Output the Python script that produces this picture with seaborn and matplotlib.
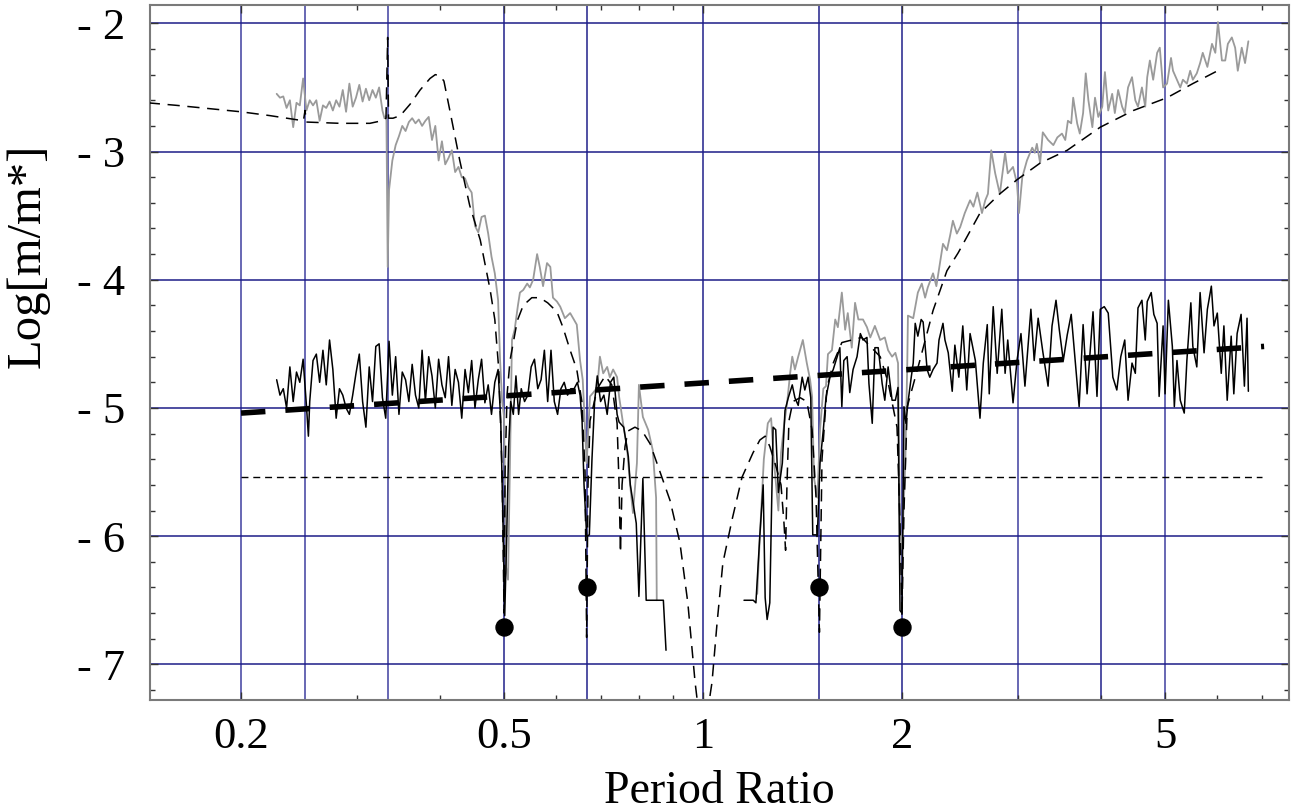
import numpy as np
import pandas as pd
import matplotlib
matplotlib.use("Agg")
import matplotlib.pyplot as plt
import seaborn as sns
from matplotlib.ticker import FixedLocator, FuncFormatter, MultipleLocator, NullFormatter

# ---------------- data: (log10 period ratio, Log[m/m*]) ----------------
gray_left = [(-0.645,-2.55),(-0.640,-2.58),(-0.635,-2.57),(-0.630,-2.66),(-0.625,-2.60),(-0.620,-2.81),
    (-0.615,-2.62),(-0.610,-2.64),(-0.605,-2.43),(-0.600,-2.68),(-0.595,-2.60),(-0.590,-2.64),(-0.585,-2.60),
    (-0.580,-2.76),(-0.575,-2.64),(-0.570,-2.66),(-0.565,-2.61),(-0.560,-2.68),(-0.555,-2.60),(-0.550,-2.65),
    (-0.545,-2.52),(-0.540,-2.69),(-0.535,-2.47),(-0.530,-2.65),(-0.525,-2.58),(-0.520,-2.48),(-0.515,-2.61),
    (-0.510,-2.51),(-0.505,-2.60),(-0.500,-2.52),(-0.495,-2.58),(-0.490,-2.50),(-0.485,-2.68),(-0.482,-2.74),
    (-0.479,-2.72),(-0.477,-3.90),(-0.475,-3.30),(-0.470,-3.07),(-0.465,-2.95),(-0.460,-2.88),(-0.455,-2.80),
    (-0.450,-2.84),(-0.445,-2.77),(-0.440,-2.74),(-0.435,-2.78),(-0.430,-2.75),(-0.425,-2.80),(-0.420,-2.76),
    (-0.415,-2.73),(-0.410,-2.91),(-0.405,-2.80),(-0.400,-3.07),(-0.395,-2.92),(-0.390,-3.10),(-0.385,-3.05),
    (-0.380,-2.99),(-0.375,-3.16),(-0.370,-3.12),(-0.365,-3.20),(-0.360,-3.21),(-0.355,-3.28),(-0.350,-3.32),
    (-0.345,-3.58),(-0.340,-3.63),(-0.335,-3.51),(-0.330,-3.50),(-0.325,-3.64),(-0.320,-3.82),(-0.315,-3.95),
    (-0.310,-4.16),(-0.307,-4.63),(-0.304,-4.94),(-0.301,-5.07),(-0.298,-6.24),(-0.295,-6.34),(-0.292,-5.41),
    (-0.289,-4.47),(-0.285,-4.39),(-0.280,-4.20),(-0.277,-4.10),(-0.272,-4.08),(-0.266,-4.03),(-0.262,-4.06),
    (-0.257,-4.00),(-0.251,-3.80),(-0.247,-3.90),(-0.242,-4.05),(-0.236,-3.87),(-0.231,-3.90),(-0.227,-4.14),
    (-0.221,-4.17),(-0.216,-4.21),(-0.209,-4.30),(-0.201,-4.26),(-0.191,-4.35),(-0.186,-4.63),(-0.182,-4.78),
    (-0.176,-5.43),(-0.171,-4.91),(-0.166,-4.88),(-0.160,-4.84),(-0.156,-4.60),(-0.151,-4.73),(-0.145,-4.68),
    (-0.141,-4.76),(-0.136,-4.70),(-0.130,-4.76),(-0.127,-4.91),(-0.121,-5.12),(-0.115,-5.31),(-0.111,-5.56),
    (-0.106,-5.82),(-0.100,-5.43),(-0.097,-4.82),(-0.091,-5.07),(-0.083,-5.17),(-0.076,-5.33),(-0.071,-5.70),
    (-0.070,-6.50)]

gray_right = [(0.082,-6.45),(0.086,-6.00),(0.092,-5.40),(0.098,-5.12),(0.103,-5.08),(0.107,-5.40),(0.114,-5.80),
    (0.118,-5.35),(0.123,-5.12),(0.127,-4.97),(0.132,-4.72),(0.135,-4.60),(0.139,-4.70),(0.144,-4.60),
    (0.151,-4.47),(0.157,-4.65),(0.162,-4.78),(0.165,-4.91),(0.168,-5.55),(0.173,-5.70),(0.177,-5.17),
    (0.182,-4.85),(0.186,-4.83),(0.189,-4.58),(0.195,-4.55),(0.200,-4.31),(0.204,-4.37),(0.210,-4.10),
    (0.215,-4.39),(0.219,-4.26),(0.225,-4.53),(0.230,-4.18),(0.235,-4.31),(0.242,-4.31),(0.248,-4.37),
    (0.253,-4.45),(0.260,-4.36),(0.268,-4.47),(0.275,-4.45),(0.280,-4.55),(0.286,-4.60),(0.291,-4.57),
    (0.295,-4.65),(0.298,-5.95),(0.301,-6.10),(0.306,-5.43),(0.309,-4.65),(0.310,-4.28),(0.318,-4.30),
    (0.325,-4.10),(0.331,-4.03),(0.336,-4.14),(0.340,-4.06),(0.348,-3.95),(0.353,-4.05),(0.359,-3.85),
    (0.363,-3.72),(0.369,-3.77),(0.374,-3.65),(0.378,-3.54),(0.384,-3.64),(0.389,-3.59),(0.396,-3.48),
    (0.404,-3.38),(0.409,-3.43),(0.415,-3.32),(0.422,-3.48),(0.427,-3.38),(0.431,-3.33),(0.436,-2.99),
    (0.442,-3.17),(0.449,-3.33),(0.457,-3.01),(0.461,-3.17),(0.469,-3.12),(0.475,-3.25),(0.478,-3.48),
    (0.483,-3.20),(0.490,-3.07),(0.498,-2.97),(0.502,-3.01),(0.505,-2.94),(0.510,-3.09),(0.514,-2.85),
    (0.522,-2.91),(0.530,-2.95),(0.536,-2.89),(0.543,-2.86),(0.548,-2.91),(0.552,-2.76),(0.557,-2.78),
    (0.560,-2.58),(0.566,-2.78),(0.570,-2.86),(0.575,-2.70),(0.579,-2.39),(0.583,-2.60),(0.589,-2.81),
    (0.593,-2.58),(0.598,-2.73),(0.604,-2.65),(0.608,-2.38),(0.613,-2.68),(0.619,-2.55),(0.623,-2.70),
    (0.628,-2.52),(0.634,-2.65),(0.638,-2.70),(0.643,-2.50),(0.649,-2.42),(0.654,-2.60),(0.658,-2.65),
    (0.664,-2.50),(0.669,-2.65),(0.672,-2.42),(0.676,-2.29),(0.681,-2.44),(0.687,-2.23),(0.691,-2.19),
    (0.696,-2.50),(0.702,-2.47),(0.708,-2.27),(0.711,-2.37),(0.717,-2.44),(0.722,-2.50),(0.726,-2.44),
    (0.732,-2.47),(0.737,-2.37),(0.741,-2.44),(0.747,-2.39),(0.752,-2.31),(0.756,-2.23),(0.763,-2.34),
    (0.770,-2.16),(0.775,-2.23),(0.779,-1.99),(0.785,-2.29),(0.790,-2.29),(0.794,-2.16),(0.800,-2.11),
    (0.805,-2.19),(0.809,-2.37),(0.815,-2.19),(0.820,-2.31),(0.825,-2.14)]

black_left = [(-0.645,-4.78),(-0.640,-4.90),(-0.635,-4.85),(-0.630,-5.00),(-0.625,-4.68),(-0.620,-4.95),
    (-0.615,-4.72),(-0.610,-4.80),(-0.605,-4.62),(-0.600,-4.98),(-0.597,-5.22),(-0.595,-4.95),(-0.590,-4.63),
    (-0.585,-4.58),(-0.580,-4.80),(-0.575,-4.55),(-0.570,-4.82),(-0.565,-4.47),(-0.560,-4.70),(-0.555,-5.08),
    (-0.550,-4.85),(-0.545,-4.90),(-0.540,-5.00),(-0.535,-5.05),(-0.530,-4.90),(-0.525,-4.73),(-0.520,-4.58),
    (-0.515,-4.95),(-0.510,-5.15),(-0.505,-4.68),(-0.500,-4.95),(-0.495,-4.52),(-0.490,-4.50),(-0.485,-4.92),
    (-0.480,-5.08),(-0.475,-4.48),(-0.470,-4.90),(-0.465,-4.60),(-0.460,-5.05),(-0.455,-4.72),(-0.450,-4.78),
    (-0.445,-4.95),(-0.440,-4.66),(-0.435,-4.90),(-0.430,-5.00),(-0.425,-4.55),(-0.420,-4.95),(-0.415,-4.60),
    (-0.410,-4.75),(-0.405,-5.00),(-0.400,-4.62),(-0.395,-4.82),(-0.390,-4.92),(-0.385,-4.60),(-0.380,-4.98),
    (-0.375,-4.70),(-0.370,-4.80),(-0.365,-5.08),(-0.360,-4.70),(-0.355,-4.88),(-0.350,-4.63),(-0.345,-5.00),
    (-0.340,-4.78),(-0.335,-4.62),(-0.330,-4.96),(-0.325,-4.82),(-0.320,-5.05),(-0.315,-4.80),(-0.310,-4.70),
    (-0.306,-5.10),(-0.303,-5.80),(-0.300,-6.62),(-0.297,-6.00),(-0.294,-5.30),(-0.291,-4.95),(-0.287,-5.05),
    (-0.283,-4.75),(-0.279,-5.05),(-0.275,-4.85),(-0.270,-4.95),(-0.265,-4.90),(-0.260,-4.68),(-0.255,-4.62),
    (-0.250,-4.85),(-0.245,-4.78),(-0.240,-4.55),(-0.235,-4.95),(-0.230,-4.55),(-0.225,-4.95),(-0.220,-5.05),
    (-0.215,-4.85),(-0.210,-4.80),(-0.205,-4.90),(-0.200,-4.85),(-0.195,-4.85),(-0.190,-4.80),(-0.186,-4.90),
    (-0.183,-5.10),(-0.180,-5.60),(-0.176,-6.00),(-0.172,-5.99),(-0.168,-5.40),(-0.164,-4.95),(-0.160,-4.75),
    (-0.155,-4.95),(-0.150,-4.90),(-0.145,-5.05),(-0.140,-4.80),(-0.135,-4.76),(-0.130,-5.05),(-0.127,-5.11),
    (-0.120,-5.15),(-0.113,-5.38),(-0.110,-5.60),(-0.101,-5.90),(-0.097,-6.47),(-0.091,-5.55),(-0.086,-6.50),
    (-0.060,-6.50),(-0.056,-6.89)]

black_right = [(0.062,-6.50),(0.076,-6.50),(0.080,-6.52),(0.086,-5.99),(0.091,-5.60),(0.094,-6.48),(0.097,-6.65),
    (0.101,-6.52),(0.106,-5.15),(0.110,-5.17),(0.114,-5.66),(0.120,-5.43),(0.124,-5.02),(0.129,-4.92),
    (0.135,-4.82),(0.139,-4.92),(0.144,-4.98),(0.150,-4.76),(0.154,-4.86),(0.159,-4.76),(0.163,-4.92),
    (0.166,-5.99),(0.173,-5.99),(0.177,-5.43),(0.182,-5.17),(0.186,-4.92),(0.192,-4.76),(0.197,-4.70),
    (0.203,-4.60),(0.207,-4.53),(0.210,-4.99),(0.213,-4.63),(0.218,-4.60),(0.222,-4.88),(0.227,-4.70),
    (0.233,-4.60),(0.238,-4.42),(0.242,-4.47),(0.248,-4.45),(0.251,-4.81),(0.256,-5.12),(0.260,-4.53),
    (0.265,-4.53),(0.271,-4.81),(0.275,-4.94),(0.280,-4.68),(0.286,-4.94),(0.291,-4.94),(0.295,-4.84),
    (0.298,-6.58),(0.301,-6.60),(0.304,-4.99),(0.307,-5.12),(0.310,-4.96),(0.315,-4.76),(0.318,-4.65),
    (0.321,-4.34),(0.325,-4.44),(0.330,-4.31),(0.333,-4.33),(0.339,-4.70),(0.343,-4.76),(0.348,-4.70),
    (0.354,-4.65),(0.357,-4.47),(0.363,-4.34),(0.366,-4.47),(0.371,-4.57),(0.377,-4.87),(0.381,-4.51),
    (0.387,-4.76),(0.393,-4.36),(0.399,-4.86),(0.404,-4.42),(0.412,-4.63),(0.419,-5.08),(0.424,-4.65),
    (0.430,-4.35),(0.433,-4.89),(0.439,-4.21),(0.445,-4.73),(0.452,-4.23),(0.457,-4.73),(0.461,-4.47),
    (0.469,-4.96),(0.475,-4.63),(0.481,-4.42),(0.487,-4.83),(0.496,-4.23),(0.501,-4.63),(0.507,-4.30),
    (0.514,-4.56),(0.522,-4.83),(0.528,-4.36),(0.534,-4.16),(0.539,-4.39),(0.545,-4.63),(0.551,-4.43),
    (0.557,-4.27),(0.563,-4.63),(0.569,-4.99),(0.575,-4.35),(0.581,-4.89),(0.590,-4.25),(0.596,-4.91),
    (0.601,-4.23),(0.607,-4.21),(0.613,-4.26),(0.620,-4.76),(0.626,-4.86),(0.632,-4.60),(0.638,-4.47),
    (0.643,-4.94),(0.649,-4.65),(0.654,-4.73),(0.658,-4.22),(0.664,-4.16),(0.669,-4.47),(0.672,-4.17),
    (0.678,-4.10),(0.682,-4.27),(0.687,-4.34),(0.690,-4.91),(0.696,-4.36),(0.699,-4.89),(0.704,-4.16),
    (0.710,-4.52),(0.713,-4.99),(0.717,-4.63),(0.722,-4.94),(0.728,-5.04),(0.732,-4.63),(0.738,-4.18),
    (0.741,-4.52),(0.747,-4.68),(0.752,-4.10),(0.758,-4.57),(0.763,-4.23),(0.769,-4.05),(0.773,-4.36),
    (0.778,-4.26),(0.784,-4.73),(0.788,-4.36),(0.793,-4.94),(0.799,-4.44),(0.803,-4.89),(0.808,-4.42),
    (0.814,-4.27),(0.819,-4.83),(0.823,-4.30),(0.825,-4.87)]

theory_left = [(-0.840,-2.62),(-0.796,-2.64),(-0.699,-2.69),(-0.655,-2.72),(-0.6045,-2.76),(-0.6021,-2.68),
    (-0.600,-2.77),(-0.549,-2.78),(-0.504,-2.78),(-0.486,-2.76),(-0.4796,-2.74),(-0.4771,-2.11),(-0.4758,-2.74),
    (-0.469,-2.74),(-0.458,-2.72),(-0.443,-2.63),(-0.428,-2.52),(-0.413,-2.43),(-0.405,-2.40),(-0.398,-2.41),
    (-0.392,-2.45),(-0.383,-2.68),(-0.368,-3.07),(-0.353,-3.42),(-0.337,-3.69),(-0.322,-4.08),(-0.315,-4.31),
    (-0.309,-4.70),(-0.304,-5.50),(-0.301,-6.60),(-0.2995,-5.50),(-0.2965,-4.90),(-0.292,-4.63),(-0.281,-4.32),
    (-0.272,-4.20),(-0.259,-4.14),(-0.247,-4.14),(-0.235,-4.18),(-0.221,-4.25),(-0.212,-4.37),(-0.201,-4.55),
    (-0.191,-4.70),(-0.183,-4.96),(-0.1785,-5.50),(-0.1761,-6.79),(-0.174,-5.60),(-0.171,-5.10),(-0.160,-4.85),
    (-0.148,-4.75),(-0.138,-4.82),(-0.130,-5.12),(-0.127,-5.60),(-0.1249,-6.13),(-0.1225,-5.60),(-0.118,-5.30),
    (-0.1135,-5.18),(-0.103,-5.15),(-0.092,-5.18),(-0.080,-5.28),(-0.065,-5.50),(-0.050,-5.72),(-0.035,-6.05),
    (-0.023,-6.52),(-0.012,-7.14),(-0.006,-7.40)]

theory_right = [(0.006,-7.40),(0.0136,-7.14),(0.0212,-6.68),(0.030,-6.21),(0.044,-5.87),(0.059,-5.54),
    (0.0756,-5.35),(0.086,-5.25),(0.094,-5.22),(0.101,-5.30),(0.110,-5.45),(0.118,-5.60),(0.1225,-5.90),
    (0.1249,-6.11),(0.127,-5.60),(0.130,-5.10),(0.136,-4.95),(0.147,-4.92),(0.157,-4.95),(0.165,-5.17),
    (0.171,-5.70),(0.1761,-6.75),(0.180,-5.40),(0.1876,-4.84),(0.197,-4.65),(0.210,-4.49),(0.240,-4.45),
    (0.268,-4.60),(0.280,-4.80),(0.2935,-5.15),(0.298,-5.90),(0.301,-6.62),(0.304,-5.80),(0.309,-4.99),
    (0.328,-4.63),(0.348,-4.24),(0.369,-3.93),(0.386,-3.79),(0.419,-3.48),(0.449,-3.33),(0.475,-3.22),
    (0.510,-3.09),(0.551,-2.99),(0.601,-2.81),(0.651,-2.68),(0.702,-2.58),(0.741,-2.47),(0.786,-2.35)]

trend_ratio = [0.2, 7.06]
trend_logm = [-5.04, -4.52]

threshold_ratio = [0.2, 7.0]
threshold_logm = [-5.54, -5.54]

resonance_ratio = [0.5, 2/3, 1.5, 2.0]
resonance_logm = [-6.71, -6.40, -6.40, -6.71]

x_major = [0.2, 0.5, 1, 2, 5]
x_minor = [0.3, 0.4, 0.6, 0.7, 0.8, 0.9, 3, 4, 6, 7]
grid_x_dark = [0.5, 2/3, 1, 1.5, 2, 4]
grid_x_light = [0.2, 0.25, 1/3, 3, 5]
grid_y = [-7, -6, -5, -4, -3, -2]


def to_frame(segments):
    rows = []
    for k, seg in enumerate(segments):
        for lp, v in seg:
            rows.append({"seg": k, "ratio": 10 ** lp, "logm": v})
    return pd.DataFrame(rows)


# ---------------- figure ----------------
sns.set_theme(style="white")
plt.rcParams['font.family'] = ['Liberation Serif', 'DejaVu Serif']
plt.rcParams['text.color'] = 'black'
plt.rcParams['axes.labelcolor'] = 'black'
plt.rcParams['xtick.color'] = 'black'
plt.rcParams['ytick.color'] = 'black'

fig = plt.figure(figsize=(12.94, 8.11), dpi=100)
ax = fig.add_axes([0.11592, 0.13687, 0.88022, 0.85697])
ax.set_xscale('log')
ax.set_xlim(0.14567, 7.70)
ax.set_ylim(-7.278, -1.857)

for gx in grid_x_dark:
    ax.axvline(gx, color='#20208a', lw=1.1, zorder=0.5)
for gx in grid_x_light:
    ax.axvline(gx, color='#5c5cae', lw=1.3, zorder=0.5)
for gy in grid_y:
    ax.axhline(gy, color='#1c1c88', lw=1.1, zorder=0.5)

gray_df = to_frame([gray_left, gray_right])
black_df = to_frame([black_left, black_right])
theory_df = to_frame([theory_left, theory_right])

sns.lineplot(data=gray_df, x="ratio", y="logm", units="seg", estimator=None, sort=False,
             color="#9a9a9a", lw=1.3, ax=ax, legend=False, zorder=2)
sns.lineplot(data=black_df, x="ratio", y="logm", units="seg", estimator=None, sort=False,
             color="black", lw=1.1, ax=ax, legend=False, zorder=3)
sns.lineplot(data=theory_df, x="ratio", y="logm", units="seg", estimator=None, sort=False,
             color="black", lw=1.1, linestyle=(0, (8, 5)), ax=ax, legend=False, zorder=3)
sns.lineplot(x=threshold_ratio, y=threshold_logm, color="black", lw=1.0,
             linestyle=(0, (5, 3.5)), ax=ax, legend=False, zorder=3)
sns.lineplot(x=trend_ratio, y=trend_logm, color="black", lw=4.0,
             linestyle=(0, (4.4, 3.6)), ax=ax, legend=False, zorder=4)
sns.scatterplot(x=resonance_ratio, y=resonance_logm, s=150, color="black",
                edgecolor="black", ax=ax, legend=False, zorder=5)

# ---------------- axes styling ----------------
ax.xaxis.set_major_locator(FixedLocator(x_major))
ax.xaxis.set_minor_locator(FixedLocator(x_minor))
ax.xaxis.set_major_formatter(FuncFormatter(lambda v, p: f"{v:g}"))
ax.xaxis.set_minor_formatter(NullFormatter())
ax.yaxis.set_major_locator(FixedLocator(grid_y))
ax.yaxis.set_minor_locator(MultipleLocator(0.2))
ax.yaxis.set_major_formatter(FuncFormatter(lambda v, p: f"- {abs(int(round(v)))}"))

ax.tick_params(which='both', direction='in', top=True, right=True, bottom=True, left=True,
               color='#333333', width=1.0, labelsize=32, labelcolor='black')
ax.tick_params(which='major', length=6)
ax.tick_params(which='minor', length=3.5)
ax.tick_params(axis='x', which='major', pad=12)
ax.tick_params(axis='y', which='major', pad=18)

for sp in ax.spines.values():
    sp.set_color('#7a7a7a')
    sp.set_linewidth(1.5)
    sp.set_visible(True)

ax.set_xlabel("Period Ratio", fontsize=33, color='black', labelpad=10)
ax.set_ylabel("Log[m/m*]", fontsize=35, color='black')
ax.yaxis.set_label_coords(-0.088, 0.639)
ax.grid(False)

fig.savefig("out.png", dpi=100)
